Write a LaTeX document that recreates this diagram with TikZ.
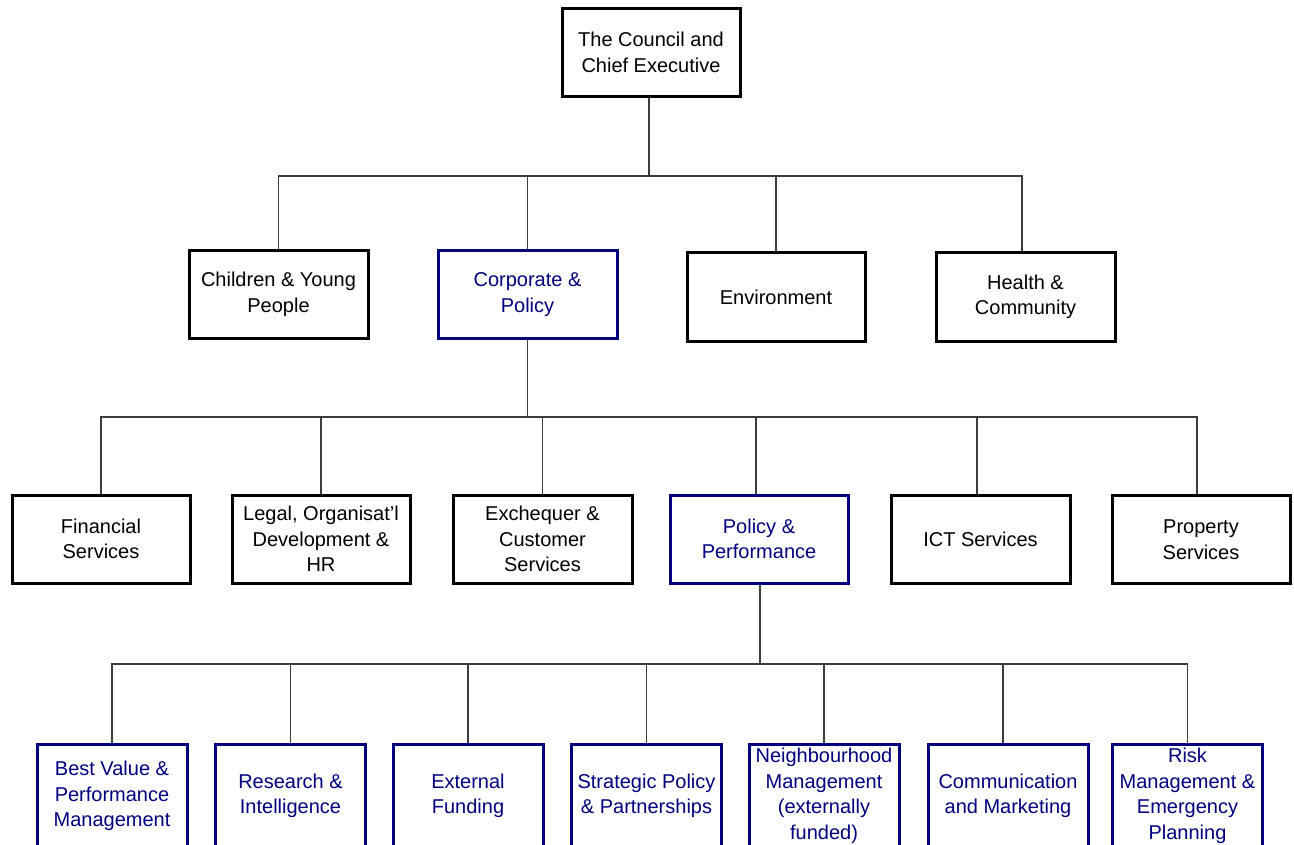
\documentclass[tikz,border=0pt]{standalone}
\usepackage{fontspec}
\setmainfont{Liberation Sans}
\definecolor{navy}{RGB}{0,0,128}
\definecolor{conn}{RGB}{60,60,60}
\begin{document}
\begin{tikzpicture}[x=1pt,y=-1pt,
  bx/.style={draw=black,line width=3pt,rectangle,inner sep=0pt,minimum height=88pt,
    align=center,font=\fontsize{20}{25.5}\selectfont,text=black},
  bb/.style={bx,draw=navy,text=navy},
  lo/.style={bb,minimum height=104pt,minimum width=150pt},
  cn/.style={draw=conn,line width=1.1pt}]
\useasboundingbox (0,0) rectangle (1294,845);
\clip (0,0) rectangle (1294,845);
\fill[white] (0,0) rectangle (1294,845);
% level 1
\node[bx,minimum width=178pt] (top) at (651,52.5) {The Council and\\Chief Executive};
% level 2
\node[bx,minimum width=179pt] (chy) at (278.5,294.5) {Children \& Young\\People};
\node[bb,minimum width=179pt] (cp) at (527.5,294.5) {Corporate \&\\Policy};
\node[bx,minimum width=178pt] (env) at (776,297) {Environment};
\node[bx,minimum width=179pt] (hc) at (1025.5,297) {Health \&\\Community};
% level 3
\node[bx,minimum width=178pt] (fin) at (101,539) {Financial\\Services};
\node[bx,minimum width=178pt] (leg) at (321,539) {Legal, Organisat’l\\Development \&\\HR};
\node[bx,minimum width=179pt] (exc) at (542.5,539) {Exchequer \&\\Customer\\Services};
\node[bb,minimum width=178pt] (pp) at (759,539) {Policy \&\\Performance};
\node[bx,minimum width=179pt] (ict) at (980.5,539.5) {ICT Services};
\node[bx,minimum width=178pt] (prop) at (1201,539.5) {Property\\Services};
% level 4
\node[lo] (bv) at (112,796) {Best Value \&\\Performance\\Management};
\node[lo] (ri) at (290.5,796) {Research \&\\Intelligence};
\node[lo] (ef) at (468,796) {External\\Funding};
\node[lo] (sp) at (646.5,796) {Strategic Policy\\\& Partnerships};
\node[lo] (nm) at (824,796) {Neighbourhood\\Management\\(externally\\funded)};
\node[lo,minimum width=160pt] (cm) at (1008,796) {Communication\\and Marketing};
\node[lo] (rm) at (1187.5,796) {Risk\\Management \&\\Emergency\\Planning};
% bus levels
\coordinate (b1) at (0,176);
\coordinate (b2) at (0,417);
\coordinate (b3) at (0,664);
% connectors level 1-2
\draw[cn] ([xshift=-2pt]top.south) -- ([xshift=-2pt]top.south |- b1);
\draw[cn] (chy.north) |- ([xshift=-3.5pt]hc.north |- b1) -- ([xshift=-3.5pt]hc.north);
\draw[cn] (cp.north) -- (cp.north |- b1);
\draw[cn] (env.north) -- (env.north |- b1);
% connectors level 2-3
\draw[cn] (cp.south) -- (cp.south |- b2);
\draw[cn] (fin.north) |- ([xshift=-4pt]prop.north |- b2) -- ([xshift=-4pt]prop.north);
\draw[cn] (leg.north) -- (leg.north |- b2);
\draw[cn] (exc.north) -- (exc.north |- b2);
\draw[cn] ([xshift=-3pt]pp.north) -- ([xshift=-3pt]pp.north |- b2);
\draw[cn] ([xshift=-3.5pt]ict.north) -- ([xshift=-3.5pt]ict.north |- b2);
% connectors level 3-4
\draw[cn] ([xshift=1pt]pp.south) -- ([xshift=1pt]pp.south |- b3);
\draw[cn] (bv.north) |- (rm.north |- b3) -- (rm.north);
\draw[cn] (ri.north) -- (ri.north |- b3);
\draw[cn] (ef.north) -- (ef.north |- b3);
\draw[cn] (sp.north) -- (sp.north |- b3);
\draw[cn] (nm.north) -- (nm.north |- b3);
\draw[cn] ([xshift=-5pt]cm.north) -- ([xshift=-5pt]cm.north |- b3);
\end{tikzpicture}
\end{document}
